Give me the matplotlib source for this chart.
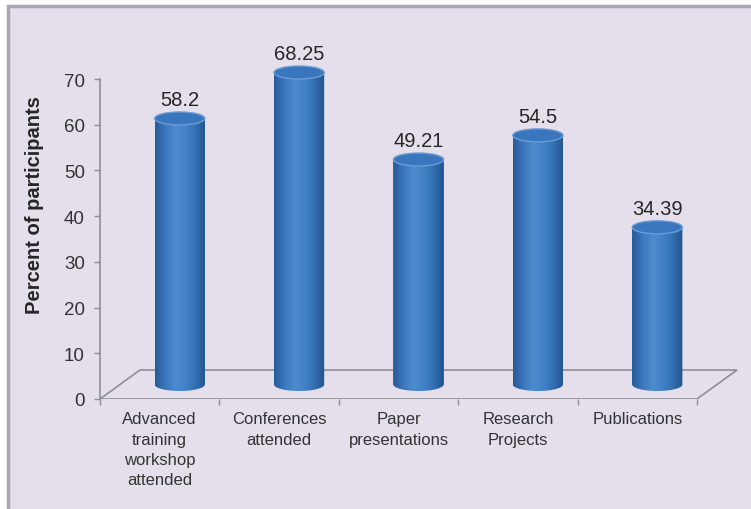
import numpy as np
import matplotlib
matplotlib.use('Agg')
from matplotlib import pyplot as plt
from matplotlib.patches import Rectangle, Ellipse, PathPatch, Polygon
from matplotlib.path import Path
from matplotlib.colors import LinearSegmentedColormap

categories = ['Advanced\ntraining\nworkshop\nattended', 'Conferences\nattended',
              'Paper\npresentations', 'Research\nProjects', 'Publications']
values = [58.2, 68.25, 49.21, 54.5, 34.39]
value_labels = ['58.2', '68.25', '49.21', '54.5', '34.39']
yticks = [0, 10, 20, 30, 40, 50, 60, 70]

plt.rcParams['font.family'] = ['Liberation Sans', 'DejaVu Sans']

W, H = 751, 510
fig = plt.figure(figsize=(W / 100, H / 100), dpi=100)
fig.patch.set_facecolor('white')

# panel background with border (right and bottom run off the image)
fig.patches.append(Rectangle((8 / W, -0.05), (W + 20) / W, (H - 7) / H + 0.05, transform=fig.transFigure,
                             facecolor='#e4dfea', edgecolor='#aaa6b3', lw=2.5, zorder=-10))

# axes: x pixel 100 -> -0.5, 119.4 px per category; y pixel 400 -> 0, 4.571 px per unit
ax = fig.add_axes([100 / W, (H - 400) / H, 640 / W, 360 / H])
ax.patch.set_visible(False)
xmax = -0.5 + 640 / 119.4
ymax = 360 / 4.571

# 3d depth of the floor
dx, dy = 40 / 119.4, 29 / 4.571
floor = Polygon([(-0.5, 0), (4.5, 0), (4.5 + dx, dy), (-0.5 + dx, dy)], closed=True,
                facecolor='none', edgecolor='#8e8e96', lw=1.2, zorder=1)
ax.add_patch(floor)

cmap = LinearSegmentedColormap.from_list('cyl', ['#285a96', '#3a77bd', '#4d8bcd', '#4282c6', '#3270b3', '#22528c'])
grad = np.linspace(0, 1, 256).reshape(1, -1)

bw = 0.42
eh = 13 / 4.571
x = np.arange(len(values))
xc = x + dx / 2
base = dy / 2

bars = ax.bar(xc, values, bottom=base, width=bw, color='#3a78c0', lw=0, zorder=2)
t = np.linspace(np.pi, 2 * np.pi, 40)
for b, v, lab in zip(bars, values, value_labels):
    cx = b.get_x() + bw / 2
    top = base + v
    # body outline: rectangle plus lower half ellipse
    verts = [(cx - bw / 2, top)]
    verts += list(zip(cx + bw / 2 * np.cos(t), base + eh / 2 * np.sin(t)))
    verts += [(cx + bw / 2, top), (cx - bw / 2, top)]
    path = Path(verts, closed=False)
    clip = PathPatch(path, transform=ax.transData, facecolor='none', edgecolor='none')
    ax.add_patch(clip)
    im = ax.imshow(grad, cmap=cmap, aspect='auto', zorder=3,
                   extent=(cx - bw / 2, cx + bw / 2, base - eh / 2, top), interpolation='bilinear')
    im.set_clip_path(clip)
    ax.add_patch(Ellipse((cx, top), bw, eh, facecolor='#3a76bd', edgecolor='#6a9cd6', lw=1.0, zorder=4))
    ax.text(cx, top + eh / 2 + 0.6, lab, ha='center', va='bottom', fontsize=14.5, color='#262626', zorder=5)

ax.set_xlim(-0.5, xmax)
ax.set_ylim(0, ymax)

for s in ['top', 'right', 'bottom']:
    ax.spines[s].set_visible(False)
ax.spines['left'].set_bounds(0, 70)
ax.spines['left'].set_color('#8e8e96')
ax.spines['left'].set_linewidth(1.2)

ax.set_yticks(yticks)
ax.set_yticklabels([str(v) for v in yticks])
ax.tick_params(axis='y', length=4, width=1, color='#8e8e96', pad=7, labelsize=13.5, labelcolor='#333333')

ax.set_xticks(x)
ax.set_xticklabels(categories, fontsize=12, color='#333333', linespacing=1.42, va='top')
ax.set_xticks(np.arange(-0.5, len(values), 1), minor=True)
ax.tick_params(axis='x', which='major', length=0, pad=9)
ax.tick_params(axis='x', which='minor', length=4, width=1, color='#8e8e96')

fig.text(35 / W, 1 - 205 / H, 'Percent of participants', rotation=90, ha='center', va='center',
         fontsize=14.5, fontweight='bold', color='#262626')

fig.savefig('out.png', dpi=100)
